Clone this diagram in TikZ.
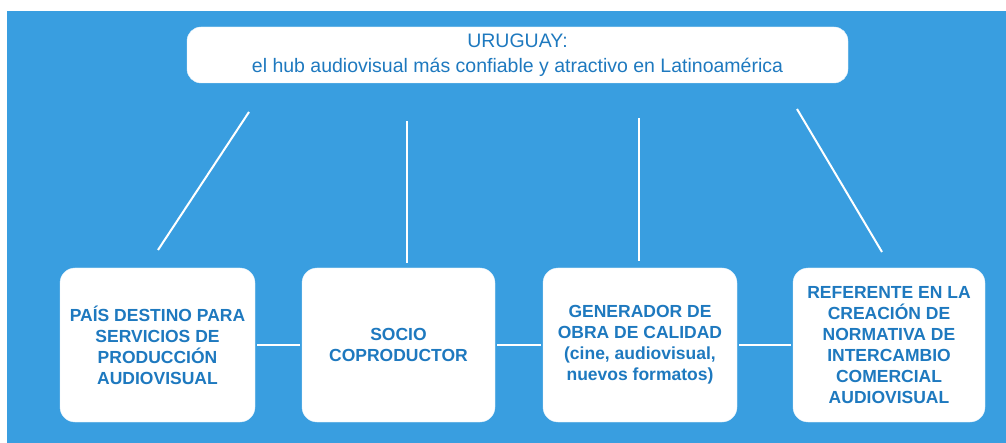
\documentclass[tikz,border=0pt]{standalone}
\usepackage{fontspec}
\setmainfont{Liberation Sans}
\usepackage{tikz}
\definecolor{hubblue}{HTML}{399EE0}
\definecolor{hubtext}{HTML}{1E79BF}

\begin{document}
\begin{tikzpicture}[x=1pt, y=-1pt,
		topbox/.style={fill=white, draw=white!85!hubblue, rounded corners=14pt, inner sep=0pt, minimum width=661pt, minimum height=56pt, align=center, text=hubtext, font=\fontsize{19.5}{25}\selectfont},
		rolebox/.style={fill=white, draw=white!85!hubblue, rounded corners=15pt, inner sep=0pt, minimum height=154pt, align=center, text=hubtext, font=\fontsize{17.5}{21}\selectfont\bfseries},
		link/.style={draw=white, line width=2pt}]
			\useasboundingbox (0, 0) rectangle (1006, 443);
			\fill[white] (0, 0) rectangle (1006, 443);
			\fill[hubblue] (7, 11) rectangle (1006, 443);

			\draw (517.5, 55) 	node[topbox] 						(uruguay) 	{URUGUAY:\\el hub audiovisual más confiable y atractivo en Latinoamérica};
			\draw (157.5, 345) 	node[rolebox, minimum width=195pt] 	(destino) 	{PAÍS DESTINO PARA\\SERVICIOS DE\\PRODUCCIÓN\\AUDIOVISUAL};
			\draw (398.5, 345) 	node[rolebox, minimum width=193pt] 	(socio) 	{SOCIO\\COPRODUCTOR};
			\draw (640, 345) 	node[rolebox, minimum width=194pt] 	(generador) {GENERADOR DE\\OBRA DE CALIDAD\\(cine, audiovisual,\\nuevos formatos)};
			\draw (889, 345) 	node[rolebox, minimum width=192pt] 	(referente) {REFERENTE EN LA\\CREACIÓN DE\\NORMATIVA DE\\INTERCAMBIO\\COMERCIAL\\AUDIOVISUAL};

			\coordinate (d_top) at (249, 112);
			\coordinate (d_bot) at (158, 250);
			\coordinate (s_top) at (407, 121);
			\coordinate (s_bot) at (407, 263);
			\coordinate (g_top) at (639, 118);
			\coordinate (g_bot) at (639, 261);
			\coordinate (r_top) at (797, 109);
			\coordinate (r_bot) at (882, 252);

			\draw[link] (d_top) -- (d_bot);
			\draw[link] (s_top) -- (s_bot);
			\draw[link] (g_top) -- (g_bot);
			\draw[link] (r_top) -- (r_bot);
			\draw[link, shorten <=2pt, shorten >=2pt] (destino) -- (socio);
			\draw[link, shorten <=2pt, shorten >=2pt] (socio) -- (generador);
			\draw[link, shorten <=2pt, shorten >=2pt] (generador) -- (referente);
		\end{tikzpicture}
\end{document}
